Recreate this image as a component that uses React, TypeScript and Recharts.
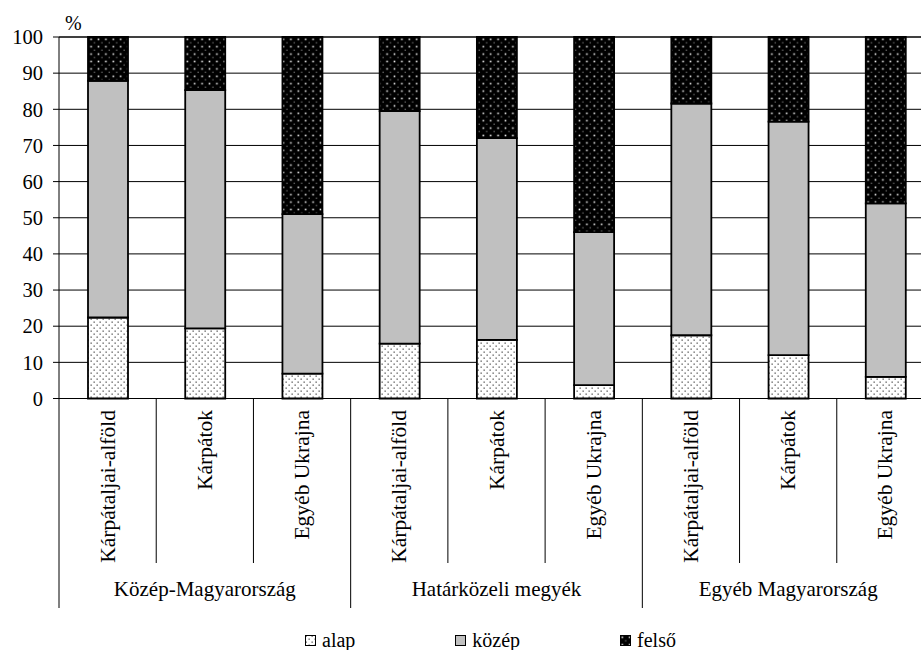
import React from 'react';
import { BarChart, Bar, XAxis, YAxis, CartesianGrid, Legend } from 'recharts';

const groups = ['Közép-Magyarország', 'Határközeli megyék', 'Egyéb Magyarország'];
const regions = ['Kárpátaljai-alföld', 'Kárpátok', 'Egyéb Ukrajna'];
const alap = [22.4, 19.4, 6.9, 15.2, 16.2, 3.7, 17.5, 12.0, 6.0];
const kozep = [65.5, 65.9, 44.1, 64.3, 55.8, 42.3, 64.1, 64.6, 48.0];
const felso = [12.1, 14.7, 49.0, 20.5, 28.0, 54.0, 18.4, 23.4, 46.0];
const yTicks = [0, 10, 20, 30, 40, 50, 60, 70, 80, 90, 100];
const seriesNames = ['alap', 'közép', 'felső'];
const seriesKeys = ['alap', 'kozep', 'felso'];

const data = alap.map((a, i) => ({
  region: regions[i % regions.length],
  group: groups[Math.floor(i / regions.length)],
  alap: a,
  kozep: kozep[i],
  felso: felso[i],
}));

const FONT = "Liberation Serif, DejaVu Serif, serif";
const CHART_W = 934;
const CHART_H = 650;
const Y_AXIS_W = 59;
const TOP = 37;
const X_AXIS_H = 251.5;
const BAND = (CHART_W - Y_AXIS_W) / data.length;

const fills = ['url(#pAlap)', '#c0c0c0', 'url(#pFelso)'];

const PatternDefs = ({ prefix }: { prefix: string }) => (
  <defs>
    <pattern id={`${prefix}Alap`} width="6" height="6" patternUnits="userSpaceOnUse">
      <rect width="6" height="6" fill="#fff" />
      <rect x="0.5" y="0.5" width="1.3" height="1.3" fill="#555" />
      <rect x="3.5" y="3.5" width="1.3" height="1.3" fill="#555" />
    </pattern>
    <pattern id={`${prefix}Felso`} width="7.4" height="7.4" patternUnits="userSpaceOnUse">
      <rect width="7.4" height="7.4" fill="#000" />
      <rect x="1.5" y="1.5" width="1.6" height="1.6" fill="#e8e8e8" />
      <rect x="5.2" y="5.2" width="1" height="1.2" fill="#999" />
    </pattern>
  </defs>
);

const XTick = (props: any) => {
  const { x, y, payload } = props;
  const i = payload.index;
  const d = data[i];
  const left = x - BAND / 2;
  const groupStart = i % regions.length === 0;
  return (
    <g>
      <line x1={left} y1={y} x2={left} y2={y + (groupStart ? 209.5 : 164.5)} stroke="#000" strokeWidth={1} />
      {i === data.length - 1 && (
        <line x1={x + BAND / 2} y1={y} x2={x + BAND / 2} y2={y + 209.5} stroke="#000" strokeWidth={1} />
      )}
      <text
        transform={`translate(${x},${y + 11.5}) rotate(-90)`}
        textAnchor="end"
        dominantBaseline="central"
        style={{ fontFamily: FONT }}
        fontSize={21.5}
        fill="#000"
      >
        {d.region}
      </text>
      {i % regions.length === 1 && (
        <text x={x} y={y + 197.5} textAnchor="middle" style={{ fontFamily: FONT }} fontSize={21} fill="#000">
          {d.group}
        </text>
      )}
    </g>
  );
};

const LegendContent = () => (
  <div
    style={{
      display: 'flex',
      alignItems: 'center',
      fontFamily: FONT,
      fontSize: 20,
      lineHeight: '23px',
      color: '#000',
      whiteSpace: 'nowrap',
    }}
  >
    {seriesNames.map((n, i) => (
      <div key={n} style={{ display: 'flex', alignItems: 'center', marginRight: i < seriesNames.length - 1 ? 100 : 0 }}>
        <svg width={11} height={11} style={{ marginRight: 6, display: 'block' }}>
          <PatternDefs prefix={`lg${i}`} />
          <rect
            x={0.5}
            y={0.5}
            width={10}
            height={10}
            fill={i === 0 ? `url(#lg${i}Alap)` : i === 2 ? `url(#lg${i}Felso)` : '#c0c0c0'}
            stroke="#000"
            strokeWidth={1}
          />
        </svg>
        <span>{n}</span>
      </div>
    ))}
  </div>
);

export default function App() {
  return (
    <div style={{ position: 'absolute', left: 0, top: 0, width: 921, height: 650, overflow: 'hidden', background: '#fff', fontFamily: FONT }}>
      <BarChart
        width={CHART_W}
        height={CHART_H}
        data={data}
        margin={{ top: TOP, right: 0, left: 0, bottom: 0 }}
        barSize={40}
        style={{ fontFamily: FONT }}
      >
        <PatternDefs prefix="p" />
        <CartesianGrid vertical={false} stroke="#000" strokeWidth={1} />
        <XAxis
          dataKey="region"
          interval={0}
          height={X_AXIS_H}
          tickLine={false}
          tickSize={0}
          tickMargin={0}
          axisLine={{ stroke: '#000', strokeWidth: 1 }}
          tick={<XTick />}
        />
        <YAxis
          width={Y_AXIS_W}
          domain={[0, 100]}
          ticks={yTicks}
          interval={0}
          tickSize={6}
          tickMargin={10}
          tickLine={{ stroke: '#000' }}
          axisLine={{ stroke: '#000', strokeWidth: 1 }}
          tick={{ style: { fontFamily: FONT }, fontSize: 20.5, fill: '#000' }}
        />
        {seriesKeys.map((k, i) => (
          <Bar
            key={k}
            dataKey={k}
            name={seriesNames[i]}
            stackId="s"
            fill={fills[i]}
            stroke="#000"
            strokeWidth={1.8}
            isAnimationActive={false}
          />
        ))}
        <Legend
          layout="horizontal"
          verticalAlign="middle"
          align="center"
          wrapperStyle={{ position: 'absolute', left: 305, top: 629, width: 420, height: 23, margin: 0 }}
          content={() => <LegendContent />}
        />
        <text x={65} y={30} style={{ fontFamily: FONT }} fontSize={20} fill="#000">
          %
        </text>
      </BarChart>
    </div>
  );
}
